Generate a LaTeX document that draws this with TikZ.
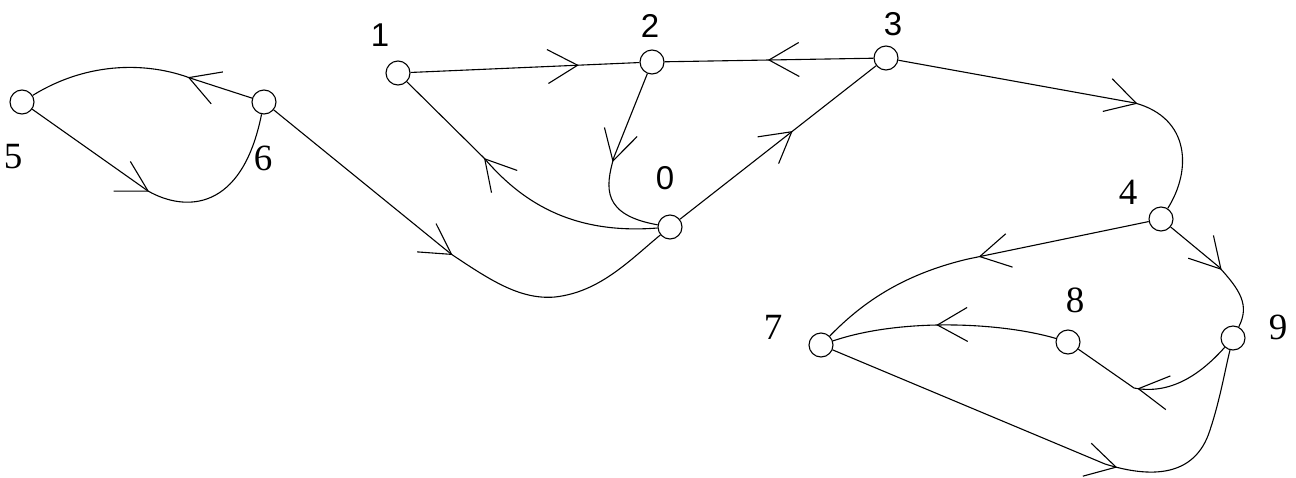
\documentclass[tikz,border=0pt]{standalone}
\usepackage{fontspec}
\setmainfont{Liberation Serif}
\newfontfamily\lsans{Liberation Sans}
\usetikzlibrary{decorations.markings}
\tikzset{
  vtx/.style={circle,draw,line width=1.1pt,minimum size=24pt,inner sep=0pt},
  serlbl/.style={font=\fontsize{37}{37}\selectfont,inner sep=0pt},
  sanlbl/.style={font=\lsans\fontsize{33}{33}\selectfont,inner sep=0pt},
  edge/.style={line width=1.1pt},
  chev/.style={postaction={decorate,decoration={markings,
    mark=at position #1 with {\draw[line width=1.1pt] (-30pt,17pt) -- (0pt,0pt) -- (-30pt,-17pt);}}}}
}
\begin{document}
\begin{tikzpicture}[x=1pt,y=-1pt]
\useasboundingbox (0,0) rectangle (1296,477);
% vertices
\node[vtx] (n5) at (22,102) {};
\node[vtx] (n6) at (264,102) {};
\node[vtx] (n1) at (398,73) {};
\node[vtx] (n2) at (652,62) {};
\node[vtx] (n3) at (886,58) {};
\node[vtx] (n0) at (670,227) {};
\node[vtx] (n4) at (1161,219) {};
\node[vtx] (n7) at (821,345) {};
\node[vtx] (n8) at (1068,342) {};
\node[vtx] (n9) at (1233,338) {};
% labels
\node[serlbl] (l5) at (13,157) {5};
\node[serlbl] (l6) at (263,158) {6};
\node[sanlbl] (l1) at (380,35) {1};
\node[sanlbl] (l2) at (650,26) {2};
\node[sanlbl] (l3) at (893,24) {3};
\node[sanlbl] (l0) at (665,178) {0};
\node[serlbl] (l4) at (1128,192) {4};
\node[serlbl] (l7) at (773,327) {7};
\node[serlbl] (l8) at (1075,300) {8};
\node[serlbl] (l9) at (1278,327) {9};
% edges
\draw[edge,chev=0.29] (n6) -- (190,78) .. controls (150,63) and (90,60) .. (n5);
\draw[edge,chev=0.46] (n5) -- (148,191) .. controls (185,212) and (242,212) .. (n6);
\draw[edge,chev=0.49] (n6) -- (451,254) .. controls (490,280) and (520,300) .. (555,297) .. controls (600,292) and (630,260) .. (n0);
\draw[edge,chev=0.73] (n1) -- (n2);
\draw[edge,chev=0.5] (n3) -- (n2);
\draw[edge,chev=0.5] (n2) -- (614,157) .. controls (605,188) and (602,215) .. (n0);
\draw[edge,chev=0.64] (n0) .. controls (570,235) and (520,200) .. (484,158) -- (n1);
\draw[edge,chev=0.57] (n0) -- (n3);
\draw[edge,chev=0.65] (n3) -- (1135,103) .. controls (1190,118) and (1192,170) .. (n4);
\draw[edge,chev=0.5] (n4) -- (1219,267) .. controls (1240,290) and (1250,305) .. (n9);
\draw[edge,chev=0.5] (n4) -- (968,259) .. controls (900,275) and (860,305) .. (n7);
\draw[edge,chev=0.53] (n8) .. controls (1000,322) and (900,318) .. (n7);
\draw[edge,chev=0.58] (n9) .. controls (1200,375) and (1170,395) .. (1134,388) -- (n8);
\draw[edge,chev=0.61] (n7) -- (1105,464) .. controls (1150,478) and (1195,478) .. (1210,430) .. controls (1220,400) and (1225,370) .. (n9);
\end{tikzpicture}
\end{document}
